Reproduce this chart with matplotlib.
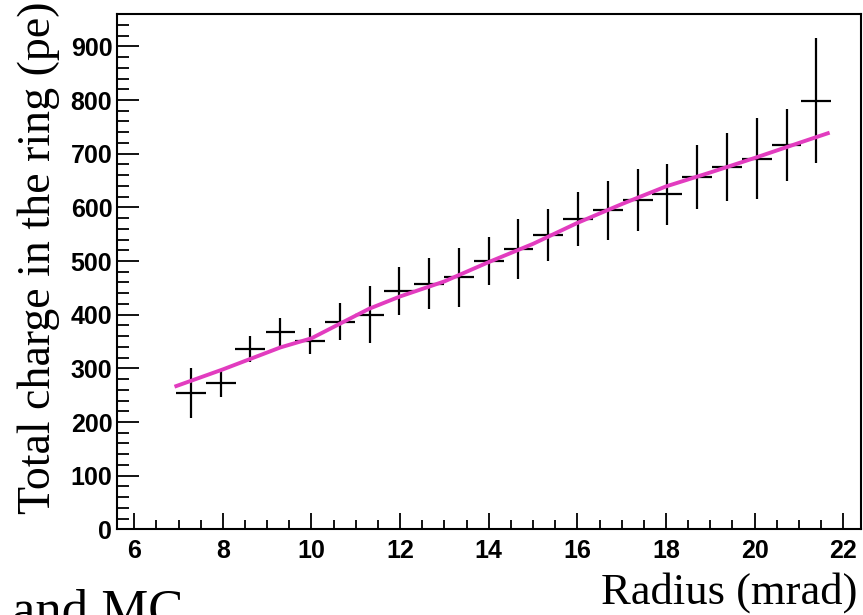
#!/usr/bin/env python3
"""Total charge in the ring vs radius -- data with error bars and MC curve."""
import matplotlib
matplotlib.use('Agg')
import matplotlib.pyplot as plt
from matplotlib.ticker import MultipleLocator

# data points (bin centres, mrad) and total charge (pe)
radius = [7.28, 7.95, 8.62, 9.30, 9.97, 10.64, 11.31, 11.98, 12.66, 13.33, 14.00,
          14.67, 15.34, 16.02, 16.69, 17.36, 18.03, 18.70, 19.38, 20.05, 20.72, 21.39]
charge = [254, 272, 336, 367, 351, 387, 400, 444, 458, 470, 500,
          522, 548, 578, 595, 613, 624, 657, 675, 691, 717, 799]
charge_err = [47, 25, 25, 27, 24, 35, 53, 44, 48, 55, 45,
              56, 48, 50, 55, 58, 57, 60, 63, 75, 67, 116]
bin_half = 0.336

# MC curve
mc_r = [6.95, 8, 9.3, 10, 11.3, 12, 13, 14, 15, 16, 17, 18, 19, 20, 21, 21.65]
mc_q = [267, 298, 339, 356, 411, 434, 462, 498, 532, 571, 606, 639, 665, 692, 720, 738]

fig = plt.figure(figsize=(8.63, 6.15), dpi=100)
ax = fig.add_axes([0.135, 0.1393, 0.8627, 0.8377])

ax.errorbar(radius, charge, xerr=bin_half, yerr=charge_err, fmt='none',
            ecolor='black', elinewidth=1.6, capsize=0, zorder=2)
ax.plot(mc_r, mc_q, color='#e23cbf', linewidth=2.8, zorder=3)

ax.set_xlim(5.6, 22.4)
ax.set_ylim(0, 960)
ax.xaxis.set_major_locator(MultipleLocator(2))
ax.xaxis.set_minor_locator(MultipleLocator(0.5))
ax.yaxis.set_major_locator(MultipleLocator(100))
ax.yaxis.set_minor_locator(MultipleLocator(20))

for s in ax.spines.values():
    s.set_linewidth(1.5)

tick_font = {'family': 'Liberation Sans', 'weight': 'bold', 'size': 18}
ax.tick_params(axis='both', which='both', direction='in', top=False, right=False, width=1.3)
ax.tick_params(axis='y', which='major', length=15.5, pad=3)
ax.tick_params(axis='y', which='minor', length=8.5)
ax.tick_params(axis='x', which='major', length=11.5, pad=7)
ax.tick_params(axis='x', which='minor', length=6.5)
for lab in ax.get_xticklabels() + ax.get_yticklabels():
    lab.set_fontproperties(tick_font)

serif = 'Liberation Serif'
fig.text(18 / 863, 1 - 2 / 615, 'Total charge in the ring (pe)', rotation=90,
         ha='left', va='top', family=serif, fontsize=33)
fig.text(857 / 863, (615 - 604) / 615, 'Radius (mrad)', ha='right', va='baseline',
         family=serif, fontsize=32)
# caption fragment, clipped at the bottom edge as in the original
fig.text(12 / 863, (615 - 626) / 615, 'and MC', ha='left', va='baseline',
         family=serif, fontsize=38)

fig.savefig('out.png', dpi=100)
